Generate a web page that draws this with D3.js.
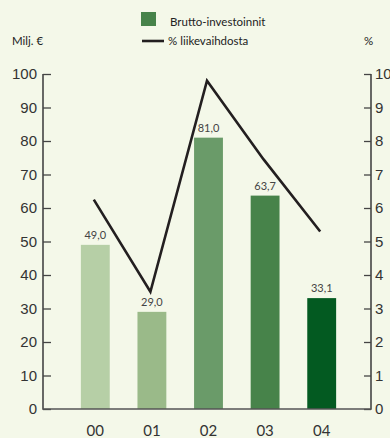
<!DOCTYPE html>
<html>
<head>
<meta charset="utf-8">
<script src="https://cdn.jsdelivr.net/npm/d3@7"></script>
<style>
  body { margin: 0; background: #f4f8e9; }
  svg { display: block; font-family: "Lato", "DejaVu Sans", sans-serif; }
</style>
</head>
<body>
<div id="chart"></div>
<script>
// data
var years = ["00", "01", "02", "03", "04"];
var investments = [49.0, 29.0, 81.0, 63.7, 33.1];   // Milj. €
var percentOfSales = [6.25, 3.5, 9.8, 7.45, 5.3];    // %
var barColors = ["#b6cfa6", "#9aba89", "#6a9b69", "#47834a", "#035a21"];
var leftTicks = [0, 10, 20, 30, 40, 50, 60, 70, 80, 90, 100];
var rightTicks = [0, 1, 2, 3, 4, 5, 6, 7, 8, 9, 10];

var width = 390, height = 438;
var plotLeft = 43, plotRight = 371, plotTop = 74, plotBottom = 409;

var svg = d3.select("#chart").append("svg")
    .attr("width", width)
    .attr("height", height);

svg.append("rect").attr("width", width).attr("height", height).attr("fill", "#f4f8e9");

var x = d3.scaleBand()
    .domain(years)
    .range([67, 350])
    .paddingInner(0.49)
    .paddingOuter(0.245);

var y = d3.scaleLinear().domain([0, 100]).range([plotBottom, plotTop]);
var y2 = d3.scaleLinear().domain([0, 10]).range([plotBottom, plotTop]);

// bars
svg.append("g").selectAll("rect")
    .data(investments)
  .enter().append("rect")
    .attr("x", function(d, i) { return x(years[i]); })
    .attr("y", function(d) { return y(d); })
    .attr("width", x.bandwidth())
    .attr("height", function(d) { return plotBottom - y(d); })
    .attr("fill", function(d, i) { return barColors[i]; });

// value labels
svg.append("g").selectAll("text")
    .data(investments)
  .enter().append("text")
    .attr("x", function(d, i) { return x(years[i]) + x.bandwidth() / 2; })
    .attr("y", function(d) { return y(d) - 6; })
    .attr("text-anchor", "middle")
    .attr("font-size", 11)
    .attr("fill", "#444")
    .text(function(d) { return d.toFixed(1).replace(".", ","); });

// left axis
var leftAxis = svg.append("g")
    .attr("transform", "translate(" + plotLeft + ",0)")
    .call(d3.axisRight(y).tickValues(leftTicks).tickSize(8).tickFormat(""));
leftAxis.select(".domain").remove();
leftAxis.selectAll("line").attr("stroke", "#444").attr("stroke-width", 1.3);
leftAxis.append("line").attr("y1", y(100)).attr("y2", plotBottom + 0.7)
    .attr("stroke", "#444").attr("stroke-width", 1.6);
leftAxis.selectAll(".lbl")
    .data(leftTicks)
  .enter().append("text")
    .attr("class", "lbl")
    .attr("x", -6)
    .attr("y", function(d) { return y(d) + 5; })
    .attr("text-anchor", "end")
    .attr("font-size", 15)
    .attr("fill", "#333")
    .text(function(d) { return d; });

// right axis
var rightAxis = svg.append("g")
    .attr("transform", "translate(" + plotRight + ",0)")
    .call(d3.axisLeft(y2).tickValues(rightTicks).tickSize(7).tickFormat(""));
rightAxis.select(".domain").remove();
rightAxis.selectAll("line").attr("stroke", "#444").attr("stroke-width", 1.3);
rightAxis.append("line").attr("y1", y2(10)).attr("y2", plotBottom + 0.7)
    .attr("stroke", "#444").attr("stroke-width", 1.6);
rightAxis.selectAll(".lbl")
    .data(rightTicks)
  .enter().append("text")
    .attr("class", "lbl")
    .attr("x", 4)
    .attr("y", function(d) { return y2(d) + 5; })
    .attr("text-anchor", "start")
    .attr("font-size", 15)
    .attr("fill", "#333")
    .text(function(d) { return d; });

// baseline
svg.append("line")
    .attr("x1", plotLeft).attr("x2", plotRight)
    .attr("y1", plotBottom).attr("y2", plotBottom)
    .attr("stroke", "#555").attr("stroke-width", 1.6);

// x labels
svg.append("g").selectAll("text")
    .data(years)
  .enter().append("text")
    .attr("x", function(d) { return x(d) + x.bandwidth() / 2; })
    .attr("y", 436)
    .attr("text-anchor", "middle")
    .attr("font-size", 15)
    .attr("fill", "#333")
    .text(function(d) { return d; });

// line
var line = d3.line()
    .x(function(d, i) { return x(years[i]) + x.bandwidth() / 2 - 1.5; })
    .y(function(d) { return y2(d); });

svg.append("path")
    .datum(percentOfSales)
    .attr("d", line)
    .attr("fill", "none")
    .attr("stroke", "#231f20")
    .attr("stroke-width", 2.6);

// legend + axis titles
svg.append("rect").attr("x", 141).attr("y", 12).attr("width", 15).attr("height", 14).attr("fill", "#47834a");
svg.append("text").attr("x", 170).attr("y", 26).attr("font-size", 11.5).attr("fill", "#222").text("Brutto-investoinnit");
svg.append("line").attr("x1", 142).attr("x2", 164).attr("y1", 41).attr("y2", 41).attr("stroke", "#231f20").attr("stroke-width", 2.6);
svg.append("text").attr("x", 168).attr("y", 45).attr("font-size", 11.5).attr("fill", "#222").text("% liikevaihdosta");
svg.append("text").attr("x", 12).attr("y", 45).attr("font-size", 11.5).attr("fill", "#222").text("Milj. €");
svg.append("text").attr("x", 364).attr("y", 45).attr("font-size", 11.5).attr("fill", "#222").text("%");
</script>
</body>
</html>
